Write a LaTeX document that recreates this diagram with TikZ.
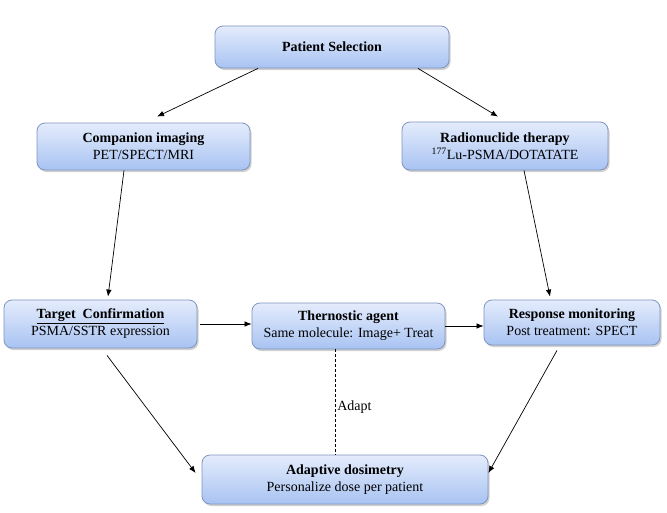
\documentclass[tikz,border=0pt]{standalone}
\usepackage{fontspec}
\setmainfont{Liberation Serif}
\usetikzlibrary{arrows.meta,shadows}
\definecolor{boxtop}{HTML}{E4ECFC}
\definecolor{boxbot}{HTML}{A8C3F2}
\definecolor{boxline}{HTML}{7F95BF}
\begin{document}
\begin{tikzpicture}[x=1pt,y=-1pt,
  box/.style={draw=boxline, line width=0.8pt, rounded corners=8pt,
    top color=boxtop, bottom color=boxbot, align=center,
    font=\fontsize{14}{17}\selectfont, inner sep=2pt,
    drop shadow={shadow xshift=1.5pt, shadow yshift=-2pt, opacity=0.3, fill=black!60}},
  arr/.style={-{Latex[length=7pt,width=5.5pt]}, line width=0.7pt, black},
  lbl/.style={font=\fontsize{14}{17}\selectfont}]
\useasboundingbox (0,0) rectangle (667,512);
\fill[white] (0,0) rectangle (667,512);

\node[box, minimum width=234pt, minimum height=42pt] (ps) at (332,47) {\textbf{Patient Selection}};
\node[box, minimum width=213pt, minimum height=47pt] (ci) at (143.5,146.5) {\textbf{Companion imaging}\\PET/SPECT/MRI};
\node[box, minimum width=206pt, minimum height=48pt] (rt) at (505,146) {\textbf{Radionuclide therapy}\\\textsuperscript{177}Lu-PSMA/DOTATATE};
\node[box, minimum width=193pt, minimum height=48pt] (tc) at (100.5,324) {\textbf{\underline{Target\ \ Confirmation}}\\PSMA/SSTR expression};
\node[box, minimum width=193pt, minimum height=46pt] (ta) at (348.5,326) {\textbf{Thernostic agent}\\Same molecule: Image+ Treat};
\node[box, minimum width=176pt, minimum height=45pt] (rm) at (572,322.5) {\textbf{Response monitoring}\\Post treatment: SPECT};
\node[box, minimum width=286pt, minimum height=49pt] (ad) at (345,479.5) {\textbf{Adaptive dosimetry}\\Personalize dose per patient};

\draw[arr] ([xshift=-74pt]ps.south) -- ([xshift=13.5pt,yshift=6pt]ci.north);
\draw[arr] ([xshift=86pt]ps.south) -- ([xshift=-7pt,yshift=5pt]rt.north);
\draw[arr] ([xshift=-19.5pt]ci.south) -- ([xshift=7.5pt,yshift=3pt]tc.north);
\draw[arr] ([xshift=19pt]rt.south) -- ([xshift=-22pt,yshift=3pt]rm.north);
\draw[arr] ([xshift=3pt]tc.east) -- (tc.east -| ta.west);
\draw[arr] (ta.east) -- (ta.east -| rm.west);
\draw[arr] ([xshift=6.5pt,yshift=-7pt]tc.south) -- ([xshift=-6pt,yshift=6.5pt]ad.west);
\draw[arr] ([xshift=-15pt,yshift=-5pt]rm.south) -- ([yshift=6.5pt]ad.east);
\coordinate (dtop) at ([xshift=-13.5pt]ta.south);
\draw[dashed, line width=0.7pt, dash pattern=on 3pt off 2pt] (dtop) -- (dtop |- ad.north)
  node[lbl, pos=0.55, right, inner sep=2pt] (adapt) {Adapt};
\end{tikzpicture}
\end{document}
